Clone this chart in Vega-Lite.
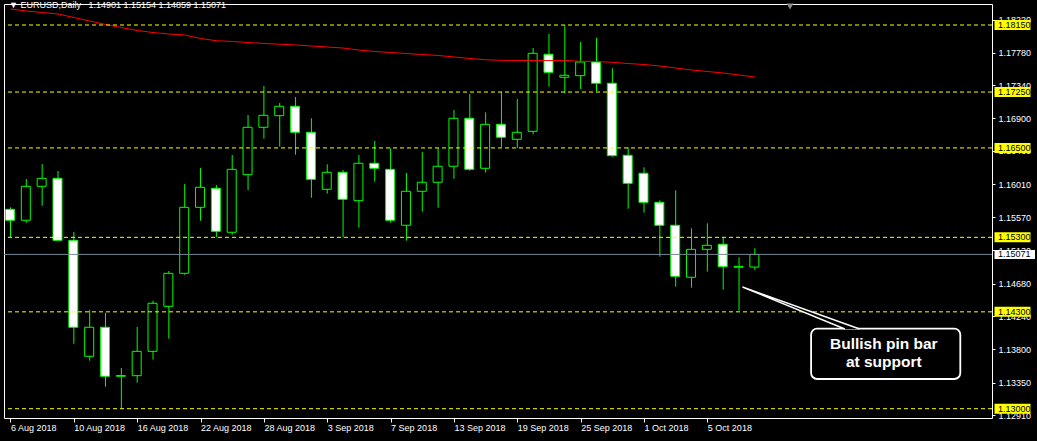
{
  "$schema": "https://vega.github.io/schema/vega-lite/v6.json",
  "width": 988,
  "height": 414,
  "autosize": {"type": "none"},
  "padding": {"left": 4, "top": 4, "right": 45, "bottom": 23},
  "background": "#000000",
  "config": {
    "view": {"stroke": "#ffffff", "strokeWidth": 1, "fill": "#000000"},
    "font": "Liberation Sans",
    "axis": {
      "grid": false, "domain": false, "tickColor": "#ffffff", "tickWidth": 1,
      "labelColor": "#ffffff", "labelFont": "Liberation Sans", "labelFontSize": 9,
      "labelFlush": false, "labelOverlap": false, "labelBound": false
    },
    "axisX": {"tickSize": 4, "labelAlign": "left", "labelBaseline": "top", "labelPadding": 1},
    "axisY": {"tickSize": 3, "labelPadding": 3}
  },
  "title": {
    "text": "▼\u00a0EURUSD,Daily\u00a0\u00a0\u00a01.14901 1.15154 1.14859 1.15071",
    "anchor": "start",
    "frame": "group",
    "orient": "top",
    "color": "#ffffff",
    "font": "Liberation Sans",
    "fontSize": 9,
    "fontWeight": "normal",
    "baseline": "alphabetic",
    "offset": 0,
    "dx": 5,
    "dy": 13
  },
  "datasets": {
    "candles": [
      {"i": 0, "date": "2018-08-06", "open": 1.15676, "high": 1.15703, "low": 1.15301, "close": 1.15529, "ma": 1.18365},
      {"i": 1, "date": "2018-08-07", "open": 1.15529, "high": 1.16083, "low": 1.15497, "close": 1.15985, "ma": 1.18338},
      {"i": 2, "date": "2018-08-08", "open": 1.15985, "high": 1.16284, "low": 1.15725, "close": 1.16092, "ma": 1.18318},
      {"i": 3, "date": "2018-08-09", "open": 1.16092, "high": 1.16190, "low": 1.15255, "close": 1.15260, "ma": 1.18298},
      {"i": 4, "date": "2018-08-10", "open": 1.15260, "high": 1.15372, "low": 1.13872, "close": 1.14093, "ma": 1.18251},
      {"i": 5, "date": "2018-08-13", "open": 1.13703, "high": 1.14325, "low": 1.13644, "close": 1.14093, "ma": 1.18204},
      {"i": 6, "date": "2018-08-14", "open": 1.14093, "high": 1.14288, "low": 1.13295, "close": 1.13435, "ma": 1.18157},
      {"i": 7, "date": "2018-08-15", "open": 1.13435, "high": 1.13546, "low": 1.13000, "close": 1.13445, "ma": 1.18116},
      {"i": 8, "date": "2018-08-16", "open": 1.13443, "high": 1.14097, "low": 1.13349, "close": 1.13770, "ma": 1.18076},
      {"i": 9, "date": "2018-08-17", "open": 1.13770, "high": 1.14450, "low": 1.13658, "close": 1.14415, "ma": 1.18049},
      {"i": 10, "date": "2018-08-20", "open": 1.14374, "high": 1.14848, "low": 1.13940, "close": 1.14817, "ma": 1.18029},
      {"i": 11, "date": "2018-08-21", "open": 1.14817, "high": 1.16016, "low": 1.14799, "close": 1.15703, "ma": 1.18016},
      {"i": 12, "date": "2018-08-22", "open": 1.15703, "high": 1.16231, "low": 1.15523, "close": 1.15972, "ma": 1.17969},
      {"i": 13, "date": "2018-08-23", "open": 1.15958, "high": 1.16003, "low": 1.15301, "close": 1.15381, "ma": 1.17939},
      {"i": 14, "date": "2018-08-24", "open": 1.15368, "high": 1.16405, "low": 1.15335, "close": 1.16213, "ma": 1.17929},
      {"i": 15, "date": "2018-08-27", "open": 1.16141, "high": 1.16942, "low": 1.15935, "close": 1.16777, "ma": 1.17915},
      {"i": 16, "date": "2018-08-28", "open": 1.16777, "high": 1.17331, "low": 1.16624, "close": 1.16938, "ma": 1.17902},
      {"i": 17, "date": "2018-08-29", "open": 1.16933, "high": 1.17103, "low": 1.16517, "close": 1.17059, "ma": 1.17892},
      {"i": 18, "date": "2018-08-30", "open": 1.17059, "high": 1.17184, "low": 1.16409, "close": 1.16710, "ma": 1.17882},
      {"i": 19, "date": "2018-08-31", "open": 1.16710, "high": 1.16898, "low": 1.15832, "close": 1.16079, "ma": 1.17868},
      {"i": 20, "date": "2018-09-03", "open": 1.15945, "high": 1.16280, "low": 1.15886, "close": 1.16173, "ma": 1.17855},
      {"i": 21, "date": "2018-09-04", "open": 1.16173, "high": 1.16204, "low": 1.15301, "close": 1.15811, "ma": 1.17841},
      {"i": 22, "date": "2018-09-05", "open": 1.15792, "high": 1.16405, "low": 1.15429, "close": 1.16294, "ma": 1.17814},
      {"i": 23, "date": "2018-09-06", "open": 1.16294, "high": 1.16593, "low": 1.16047, "close": 1.16227, "ma": 1.17794},
      {"i": 24, "date": "2018-09-07", "open": 1.16213, "high": 1.16495, "low": 1.15497, "close": 1.15529, "ma": 1.17781},
      {"i": 25, "date": "2018-09-10", "open": 1.15462, "high": 1.16164, "low": 1.15255, "close": 1.15918, "ma": 1.17767},
      {"i": 26, "date": "2018-09-11", "open": 1.15918, "high": 1.16445, "low": 1.15644, "close": 1.16039, "ma": 1.17754},
      {"i": 27, "date": "2018-09-12", "open": 1.16039, "high": 1.16495, "low": 1.15698, "close": 1.16254, "ma": 1.17741},
      {"i": 28, "date": "2018-09-13", "open": 1.16254, "high": 1.17009, "low": 1.16087, "close": 1.16898, "ma": 1.17721},
      {"i": 29, "date": "2018-09-14", "open": 1.16898, "high": 1.17224, "low": 1.16194, "close": 1.16213, "ma": 1.17700},
      {"i": 30, "date": "2018-09-17", "open": 1.16227, "high": 1.16978, "low": 1.16168, "close": 1.16817, "ma": 1.17684},
      {"i": 31, "date": "2018-09-18", "open": 1.16817, "high": 1.17251, "low": 1.16513, "close": 1.16643, "ma": 1.17676},
      {"i": 32, "date": "2018-09-19", "open": 1.16616, "high": 1.17157, "low": 1.16499, "close": 1.16710, "ma": 1.17674},
      {"i": 33, "date": "2018-09-20", "open": 1.16723, "high": 1.17841, "low": 1.16683, "close": 1.17770, "ma": 1.17674},
      {"i": 34, "date": "2018-09-21", "open": 1.17757, "high": 1.18029, "low": 1.17322, "close": 1.17515, "ma": 1.17674},
      {"i": 35, "date": "2018-09-24", "open": 1.17448, "high": 1.18146, "low": 1.17233, "close": 1.17475, "ma": 1.17674},
      {"i": 36, "date": "2018-09-25", "open": 1.17470, "high": 1.17922, "low": 1.17291, "close": 1.17653, "ma": 1.17663},
      {"i": 37, "date": "2018-09-26", "open": 1.17653, "high": 1.17976, "low": 1.17260, "close": 1.17368, "ma": 1.17660},
      {"i": 38, "date": "2018-09-27", "open": 1.17368, "high": 1.17569, "low": 1.16382, "close": 1.16396, "ma": 1.17649},
      {"i": 39, "date": "2018-09-28", "open": 1.16401, "high": 1.16508, "low": 1.15684, "close": 1.16025, "ma": 1.17633},
      {"i": 40, "date": "2018-10-01", "open": 1.16160, "high": 1.16240, "low": 1.15631, "close": 1.15770, "ma": 1.17620},
      {"i": 41, "date": "2018-10-02", "open": 1.15770, "high": 1.15797, "low": 1.15040, "close": 1.15462, "ma": 1.17600},
      {"i": 42, "date": "2018-10-03", "open": 1.15462, "high": 1.15931, "low": 1.14638, "close": 1.14777, "ma": 1.17573},
      {"i": 43, "date": "2018-10-04", "open": 1.14764, "high": 1.15421, "low": 1.14624, "close": 1.15139, "ma": 1.17546},
      {"i": 44, "date": "2018-10-05", "open": 1.15139, "high": 1.15488, "low": 1.14839, "close": 1.15193, "ma": 1.17526},
      {"i": 45, "date": "2018-10-08", "open": 1.15207, "high": 1.15301, "low": 1.14597, "close": 1.14906, "ma": 1.17506},
      {"i": 46, "date": "2018-10-09", "open": 1.14898, "high": 1.15032, "low": 1.14315, "close": 1.14910, "ma": 1.17479},
      {"i": 47, "date": "2018-10-10", "open": 1.14901, "high": 1.15154, "low": 1.14859, "close": 1.15071, "ma": 1.17452}
    ],
    "levels": [
      {"price": 1.1815}, {"price": 1.1725}, {"price": 1.165},
      {"price": 1.153}, {"price": 1.143}, {"price": 1.13}
    ],
    "bid": [{"price": 1.15071}],
    "note": [
      {"x1": 50.55, "x2": 59.97, "top": 1.140738, "bottom": 1.133986, "tx": 55.14, "ty": 1.138053, "label": "Bullish pin bar\nat support"}
    ],
    "pointer": [
      {"o": 0, "x": 52.68, "y": 1.140697},
      {"o": 1, "x": 46.22, "y": 1.146334},
      {"o": 2, "x": 53.61, "y": 1.140697}
    ],
    "shift": [{"x": 49.22, "y": 1.18398}]
  },
  "layer": [
    {
      "data": {"name": "candles"},
      "mark": {"type": "rule", "color": "#00ff00", "strokeWidth": 1},
      "encoding": {
        "x": {"field": "i", "type": "quantitative", "scale": {"domain": [-0.09375, 61.65625], "nice": false, "zero": false},
          "axis": {"title": null, "values": [0, 4, 8, 12, 16, 20, 24, 28, 32, 36, 40, 44], "labelExpr": "['6 Aug 2018','10 Aug 2018','16 Aug 2018','22 Aug 2018','28 Aug 2018','3 Sep 2018','7 Sep 2018','13 Sep 2018','19 Sep 2018','25 Sep 2018','1 Oct 2018','5 Oct 2018'][round(datum.value/4)]"}},
        "y": {"field": "low", "type": "quantitative", "scale": {"domain": [1.12875154, 1.18431862], "nice": false, "zero": false},
          "axis": {"title": null, "orient": "right", "format": ".5f", "values": [1.1291, 1.1335, 1.138, 1.1424, 1.1468, 1.1513, 1.1557, 1.1601, 1.1646, 1.169, 1.1734, 1.1778, 1.1822]}},
        "y2": {"field": "high"}
      }
    },
    {
      "data": {"name": "candles"},
      "mark": {"type": "bar", "size": 9, "xOffset": -0.5, "stroke": "#00ff00", "strokeWidth": 1},
      "encoding": {
        "x": {"field": "i", "type": "quantitative", "scale": {"domain": [-0.09375, 61.65625], "nice": false, "zero": false},
          "axis": {"title": null, "values": [0, 4, 8, 12, 16, 20, 24, 28, 32, 36, 40, 44], "labelExpr": "['6 Aug 2018','10 Aug 2018','16 Aug 2018','22 Aug 2018','28 Aug 2018','3 Sep 2018','7 Sep 2018','13 Sep 2018','19 Sep 2018','25 Sep 2018','1 Oct 2018','5 Oct 2018'][round(datum.value/4)]"}},
        "y": {"field": "open", "type": "quantitative", "scale": {"domain": [1.12875154, 1.18431862], "nice": false, "zero": false},
          "axis": {"title": null, "orient": "right", "format": ".5f", "values": [1.1291, 1.1335, 1.138, 1.1424, 1.1468, 1.1513, 1.1557, 1.1601, 1.1646, 1.169, 1.1734, 1.1778, 1.1822]}},
        "y2": {"field": "close"},
        "fill": {"condition": {"test": "datum.close < datum.open", "value": "#ffffff"}, "value": "#000000"}
      }
    },
    {
      "data": {"name": "candles"},
      "mark": {"type": "line", "color": "#ff0000", "strokeWidth": 1},
      "encoding": {
        "x": {"field": "i", "type": "quantitative", "scale": {"domain": [-0.09375, 61.65625], "nice": false, "zero": false},
          "axis": {"title": null, "values": [0, 4, 8, 12, 16, 20, 24, 28, 32, 36, 40, 44], "labelExpr": "['6 Aug 2018','10 Aug 2018','16 Aug 2018','22 Aug 2018','28 Aug 2018','3 Sep 2018','7 Sep 2018','13 Sep 2018','19 Sep 2018','25 Sep 2018','1 Oct 2018','5 Oct 2018'][round(datum.value/4)]"}},
        "y": {"field": "ma", "type": "quantitative", "scale": {"domain": [1.12875154, 1.18431862], "nice": false, "zero": false},
          "axis": {"title": null, "orient": "right", "format": ".5f", "values": [1.1291, 1.1335, 1.138, 1.1424, 1.1468, 1.1513, 1.1557, 1.1601, 1.1646, 1.169, 1.1734, 1.1778, 1.1822]}}
      }
    },
    {
      "data": {"name": "levels"},
      "mark": {"type": "rule", "color": "#ffff00", "strokeWidth": 1, "strokeDash": [4, 3]},
      "encoding": {
        "y": {"field": "price", "type": "quantitative", "scale": {"domain": [1.12875154, 1.18431862], "nice": false, "zero": false},
          "axis": {"title": null, "orient": "right", "format": ".5f", "values": [1.1291, 1.1335, 1.138, 1.1424, 1.1468, 1.1513, 1.1557, 1.1601, 1.1646, 1.169, 1.1734, 1.1778, 1.1822]}}
      }
    },
    {
      "data": {"name": "bid"},
      "mark": {"type": "rule", "color": "#778899", "strokeWidth": 1},
      "encoding": {
        "y": {"field": "price", "type": "quantitative", "scale": {"domain": [1.12875154, 1.18431862], "nice": false, "zero": false},
          "axis": {"title": null, "orient": "right", "format": ".5f", "values": [1.1291, 1.1335, 1.138, 1.1424, 1.1468, 1.1513, 1.1557, 1.1601, 1.1646, 1.169, 1.1734, 1.1778, 1.1822]}}
      }
    },
    {
      "data": {"name": "levels"},
      "mark": {"type": "rect", "color": "#ffff00", "xOffset": 2.5, "x2Offset": 38.5, "yOffset": -5, "y2Offset": 5},
      "encoding": {
        "x": {"value": "width"},
        "x2": {"value": "width"},
        "y": {"field": "price", "type": "quantitative", "scale": {"domain": [1.12875154, 1.18431862], "nice": false, "zero": false},
          "axis": {"title": null, "orient": "right", "format": ".5f", "values": [1.1291, 1.1335, 1.138, 1.1424, 1.1468, 1.1513, 1.1557, 1.1601, 1.1646, 1.169, 1.1734, 1.1778, 1.1822]}},
        "y2": {"field": "price"}
      }
    },
    {
      "data": {"name": "bid"},
      "mark": {"type": "rect", "color": "#ffffff", "xOffset": 2.5, "x2Offset": 43, "yOffset": -4.5, "y2Offset": 4.5},
      "encoding": {
        "x": {"value": "width"},
        "x2": {"value": "width"},
        "y": {"field": "price", "type": "quantitative", "scale": {"domain": [1.12875154, 1.18431862], "nice": false, "zero": false},
          "axis": {"title": null, "orient": "right", "format": ".5f", "values": [1.1291, 1.1335, 1.138, 1.1424, 1.1468, 1.1513, 1.1557, 1.1601, 1.1646, 1.169, 1.1734, 1.1778, 1.1822]}},
        "y2": {"field": "price"}
      }
    },
    {
      "data": {"name": "levels"},
      "mark": {"type": "text", "color": "#000000", "align": "left", "baseline": "middle", "dx": 6, "font": "Liberation Sans", "fontSize": 9},
      "encoding": {
        "x": {"value": "width"},
        "y": {"field": "price", "type": "quantitative", "scale": {"domain": [1.12875154, 1.18431862], "nice": false, "zero": false},
          "axis": {"title": null, "orient": "right", "format": ".5f", "values": [1.1291, 1.1335, 1.138, 1.1424, 1.1468, 1.1513, 1.1557, 1.1601, 1.1646, 1.169, 1.1734, 1.1778, 1.1822]}},
        "text": {"field": "price", "type": "quantitative", "format": ".5f"}
      }
    },
    {
      "data": {"name": "bid"},
      "mark": {"type": "text", "color": "#000000", "align": "left", "baseline": "middle", "dx": 6, "font": "Liberation Sans", "fontSize": 9},
      "encoding": {
        "x": {"value": "width"},
        "y": {"field": "price", "type": "quantitative", "scale": {"domain": [1.12875154, 1.18431862], "nice": false, "zero": false},
          "axis": {"title": null, "orient": "right", "format": ".5f", "values": [1.1291, 1.1335, 1.138, 1.1424, 1.1468, 1.1513, 1.1557, 1.1601, 1.1646, 1.169, 1.1734, 1.1778, 1.1822]}},
        "text": {"field": "price", "type": "quantitative", "format": ".5f"}
      }
    },
    {
      "data": {"name": "note"},
      "mark": {"type": "rect", "fill": "#000000", "stroke": "#ffffff", "strokeWidth": 1.8, "cornerRadius": 6},
      "encoding": {
        "x": {"field": "x1", "type": "quantitative", "scale": {"domain": [-0.09375, 61.65625], "nice": false, "zero": false},
          "axis": {"title": null, "values": [0, 4, 8, 12, 16, 20, 24, 28, 32, 36, 40, 44], "labelExpr": "['6 Aug 2018','10 Aug 2018','16 Aug 2018','22 Aug 2018','28 Aug 2018','3 Sep 2018','7 Sep 2018','13 Sep 2018','19 Sep 2018','25 Sep 2018','1 Oct 2018','5 Oct 2018'][round(datum.value/4)]"}},
        "x2": {"field": "x2"},
        "y": {"field": "top", "type": "quantitative", "scale": {"domain": [1.12875154, 1.18431862], "nice": false, "zero": false},
          "axis": {"title": null, "orient": "right", "format": ".5f", "values": [1.1291, 1.1335, 1.138, 1.1424, 1.1468, 1.1513, 1.1557, 1.1601, 1.1646, 1.169, 1.1734, 1.1778, 1.1822]}},
        "y2": {"field": "bottom"}
      }
    },
    {
      "data": {"name": "pointer"},
      "mark": {"type": "line", "stroke": "#ffffff", "fill": "#000000", "strokeWidth": 1.4},
      "encoding": {
        "x": {"field": "x", "type": "quantitative", "scale": {"domain": [-0.09375, 61.65625], "nice": false, "zero": false},
          "axis": {"title": null, "values": [0, 4, 8, 12, 16, 20, 24, 28, 32, 36, 40, 44], "labelExpr": "['6 Aug 2018','10 Aug 2018','16 Aug 2018','22 Aug 2018','28 Aug 2018','3 Sep 2018','7 Sep 2018','13 Sep 2018','19 Sep 2018','25 Sep 2018','1 Oct 2018','5 Oct 2018'][round(datum.value/4)]"}},
        "y": {"field": "y", "type": "quantitative", "scale": {"domain": [1.12875154, 1.18431862], "nice": false, "zero": false},
          "axis": {"title": null, "orient": "right", "format": ".5f", "values": [1.1291, 1.1335, 1.138, 1.1424, 1.1468, 1.1513, 1.1557, 1.1601, 1.1646, 1.169, 1.1734, 1.1778, 1.1822]}},
        "order": {"field": "o", "type": "quantitative"}
      }
    },
    {
      "data": {"name": "note"},
      "mark": {"type": "text", "color": "#ffffff", "font": "Liberation Sans", "fontWeight": "bold", "fontSize": 15.5, "align": "center", "baseline": "alphabetic", "lineBreak": "\n", "lineHeight": 18.7},
      "encoding": {
        "x": {"field": "tx", "type": "quantitative", "scale": {"domain": [-0.09375, 61.65625], "nice": false, "zero": false},
          "axis": {"title": null, "values": [0, 4, 8, 12, 16, 20, 24, 28, 32, 36, 40, 44], "labelExpr": "['6 Aug 2018','10 Aug 2018','16 Aug 2018','22 Aug 2018','28 Aug 2018','3 Sep 2018','7 Sep 2018','13 Sep 2018','19 Sep 2018','25 Sep 2018','1 Oct 2018','5 Oct 2018'][round(datum.value/4)]"}},
        "y": {"field": "ty", "type": "quantitative", "scale": {"domain": [1.12875154, 1.18431862], "nice": false, "zero": false},
          "axis": {"title": null, "orient": "right", "format": ".5f", "values": [1.1291, 1.1335, 1.138, 1.1424, 1.1468, 1.1513, 1.1557, 1.1601, 1.1646, 1.169, 1.1734, 1.1778, 1.1822]}},
        "text": {"field": "label"}
      }
    },
    {
      "data": {"name": "shift"},
      "mark": {"type": "point", "shape": "triangle-down", "filled": true, "color": "#8c8c8c", "size": 45, "opacity": 1},
      "encoding": {
        "x": {"field": "x", "type": "quantitative", "scale": {"domain": [-0.09375, 61.65625], "nice": false, "zero": false},
          "axis": {"title": null, "values": [0, 4, 8, 12, 16, 20, 24, 28, 32, 36, 40, 44], "labelExpr": "['6 Aug 2018','10 Aug 2018','16 Aug 2018','22 Aug 2018','28 Aug 2018','3 Sep 2018','7 Sep 2018','13 Sep 2018','19 Sep 2018','25 Sep 2018','1 Oct 2018','5 Oct 2018'][round(datum.value/4)]"}},
        "y": {"field": "y", "type": "quantitative", "scale": {"domain": [1.12875154, 1.18431862], "nice": false, "zero": false},
          "axis": {"title": null, "orient": "right", "format": ".5f", "values": [1.1291, 1.1335, 1.138, 1.1424, 1.1468, 1.1513, 1.1557, 1.1601, 1.1646, 1.169, 1.1734, 1.1778, 1.1822]}}
      }
    }
  ]
}
